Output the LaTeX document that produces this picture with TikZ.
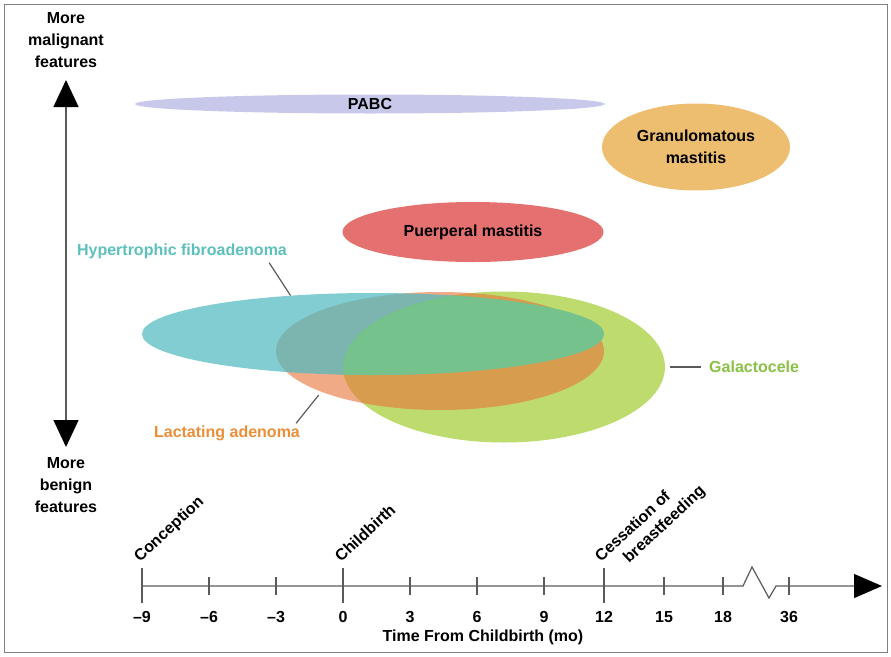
\documentclass[tikz,border=0pt]{standalone}
\usepackage{fontspec}
\setmainfont{Liberation Sans}
\usepackage{xcolor}
\usetikzlibrary{shapes.geometric, arrows.meta, positioning, calc}

\definecolor{pabcblue}{RGB}{200,200,234}
\definecolor{granorange}{RGB}{238,190,112}
\definecolor{puerred}{RGB}{228,112,112}
\definecolor{fibroteal}{RGB}{80,186,192}
\definecolor{lactorange}{RGB}{232,118,60}
\definecolor{galgreen}{RGB}{190,220,110}
\definecolor{overlapgreen}{RGB}{118,194,140}
\definecolor{fibrotext}{RGB}{92,192,188}
\definecolor{lacttext}{RGB}{234,142,56}
\definecolor{galtext}{RGB}{138,192,70}
\definecolor{axisgray}{RGB}{90,90,90}

\begin{document}
\begin{tikzpicture}[x=1pt, y=-1pt, font=\bfseries\fontsize{16}{22}\selectfont]
    % Node Styles
    \tikzstyle{blob} = [ellipse, inner sep=0pt, text opacity=1]
    \tikzstyle{tag} = [inner sep=1pt]
    \tikzstyle{leader} = [draw, axisgray, line width=1.2pt]
    \tikzstyle{tick} = [draw, axisgray, line width=1.2pt]
    \tikzstyle{event} = [rotate=43, anchor=base west, inner sep=0pt]

    % Frame
    \useasboundingbox (0,0) rectangle (891,656);
    \draw[gray, line width=0.8pt] (4,4) rectangle (887,652);

    % Severity axis
    \node [align=center] (malig) at (66,40) {More\\malignant\\features};
    \node [align=center] (benign) at (66,485) {More\\benign\\features};
    \coordinate (sevtop) at (66,80);
    \coordinate (sevbot) at (66,447);
    \draw [line width=1.3pt, axisgray, {Triangle[length=27pt, width=25pt, black]}-{Triangle[length=27pt, width=25pt, black]}] (sevtop) -- (sevbot);

    % Entities
    \node [blob, fill=pabcblue, minimum width=470pt, minimum height=19pt] (pabc) at (370,104) {PABC};
    \node [blob, fill=granorange, minimum width=188pt, minimum height=87pt, align=center] (gran) at (696,147) {Granulomatous\\mastitis};
    \node [blob, fill=puerred, minimum width=261pt, minimum height=60pt] (puer) at (473,232) {Puerperal mastitis};

    \node [blob, fill=galgreen, minimum width=322pt, minimum height=151pt] (gal) at (504,367) {};
    \node [blob, fill=lactorange, fill opacity=0.62, minimum width=328pt, minimum height=118pt] (lact) at (440,351) {};
    \node [blob, fill=fibroteal, fill opacity=0.72, minimum width=462pt, minimum height=82pt] (fibro) at (373,334) {};
    % where all three meet
    \begin{scope}
        \clip (gal.center) ellipse [x radius=161, y radius=75.5];
        \fill [overlapgreen] (fibro.center) ellipse [x radius=231, y radius=41];
    \end{scope}

    % Labels
    \node [tag, text=fibrotext] (fibrotxt) at (182,251) {Hypertrophic fibroadenoma};
    \node [tag, text=lacttext] (lacttxt) at (227,433) {Lactating adenoma};
    \node [tag, text=galtext, anchor=west] (galtxt) at (708,367) {Galactocele};
    \draw [leader] ([xshift=-19pt, yshift=-3pt]fibrotxt.south east) -- (fibro.155);
    \draw [leader, shorten >=4pt] ([xshift=-5pt, yshift=1pt]lacttxt.north east) -- (lact.199);
    \draw [leader, shorten <=5pt, shorten >=7pt] (gal.east) -- (galtxt.west);

    % Timeline
    \coordinate (tstart) at (142,586);
    \coordinate (tend) at (882,586);
    \draw [axisgray, line width=1.2pt, -{Triangle[length=28pt, width=24pt, black]}]
        (tstart) -- (743,586) -- (752,567) -- (769,598) -- (776,586) -- (tend);
    \foreach \x/\lab in {142/--9, 209/--6, 276/--3, 343/0, 410/3, 477/6, 544/9, 604/12, 664/15, 723/18, 789/36} {
        \draw [tick] (\x,577) -- (\x,595);
        \node (num\x) at (\x,617) {\lab};
    }
    \foreach \x in {142, 343, 604}
        \draw [tick] (\x,568) -- (\x,603);
    \node (timelab) at (483,637) {Time From Childbirth (mo)};

    % Events
    \node [event] (concep) at (140,563) {Conception};
    \node [event] (birth) at (341,563) {Childbirth};
    \node [event] (cess) at (601,563) {Cessation of};
    \node [event] (bfeed) at (629,564) {breastfeeding};
\end{tikzpicture}
\end{document}
